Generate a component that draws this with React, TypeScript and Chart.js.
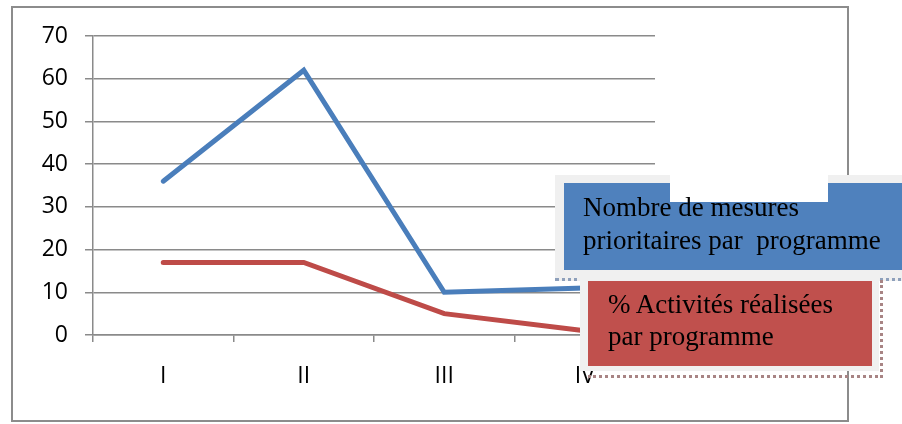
import React, { useEffect, useRef } from "react";
import { Chart, registerables } from "chart.js";

Chart.register(...registerables);

// Programme categories and the two series plotted against them
const categories = ["I", "II", "III", "IV"];
const mesuresPrioritaires = [36, 62, 10, 11];
const activitesRealisees = [17, 17, 5, 1];
const seriesNames = [
  "Nombre de mesures\nprioritaires par  programme",
  "% Activités réalisées\npar programme",
];
const yMin = 0;
const yMax = 70;
const yStep = 10;

const BLUE_LINE = "#4a7ebb";
const RED_LINE = "#be4b48";
const BLUE_FILL = "#4f81bd";
const RED_FILL = "#c0504d";
const GRID = "#8a8a8a";

// Grey frame around the whole chart object
const framePlugin = {
  id: "outerFrame",
  beforeDraw(chart: Chart) {
    const ctx = chart.ctx;
    ctx.save();
    ctx.fillStyle = "#ffffff";
    ctx.fillRect(0, 0, chart.width, chart.height);
    ctx.strokeStyle = "#8c8c8c";
    ctx.lineWidth = 2;
    ctx.strokeRect(12, 7, 836, 414);
    ctx.restore();
  },
};

export default function App() {
  const canvasRef = useRef<HTMLCanvasElement | null>(null);

  useEffect(() => {
    if (!canvasRef.current) return;
    const chart = new Chart(canvasRef.current, {
      type: "line",
      data: {
        labels: categories,
        datasets: [
          {
            label: seriesNames[0],
            data: mesuresPrioritaires,
            borderColor: BLUE_LINE,
            borderWidth: 5,
            borderCapStyle: "round",
            borderJoinStyle: "miter",
            pointRadius: 0,
            tension: 0,
          },
          {
            label: seriesNames[1],
            data: activitesRealisees,
            borderColor: RED_LINE,
            borderWidth: 5,
            borderCapStyle: "round",
            borderJoinStyle: "miter",
            pointRadius: 0,
            tension: 0,
          },
        ],
      },
      options: {
        responsive: false,
        animation: false,
        devicePixelRatio: 1,
        layout: { padding: { top: 36, right: 247, left: 0, bottom: 0 } },
        plugins: {
          legend: { display: false },
          tooltip: { enabled: false },
        },
        scales: {
          x: {
            offset: true,
            afterFit(scale: any) {
              scale.height = 89;
            },
            grid: {
              offset: true,
              drawOnChartArea: false,
              drawTicks: true,
              tickLength: 7,
              color: GRID,
              lineWidth: 1.5,
            },
            border: { display: true, color: GRID, width: 1.5 },
            ticks: {
              padding: 21,
              color: "#000000",
              font: { family: "'Open Sans'", size: 23 },
              maxRotation: 0,
            },
          },
          y: {
            min: yMin,
            max: yMax,
            afterFit(scale: any) {
              scale.width = 93;
            },
            grid: {
              drawOnChartArea: true,
              drawTicks: true,
              tickLength: 8,
              color: GRID,
              lineWidth: 1.5,
            },
            border: { display: true, color: GRID, width: 1.5 },
            ticks: {
              stepSize: yStep,
              padding: 17,
              color: "#000000",
              font: { family: "'Open Sans'", size: 23 },
            },
          },
        },
      },
      plugins: [framePlugin],
    });
    return () => chart.destroy();
  }, []);

  const textStyle: React.CSSProperties = {
    position: "absolute",
    fontFamily: "'Liberation Serif', 'Times New Roman', serif",
    fontSize: 27,
    color: "#000000",
    whiteSpace: "pre",
  };

  return (
    <div
      style={{
        position: "absolute",
        left: 0,
        top: 0,
        width: 902,
        height: 424,
        overflow: "hidden",
        background: "#ffffff",
      }}
    >
      <canvas ref={canvasRef} width={902} height={424} style={{ display: "block" }} />

      {/* legend entry: first series */}
      <div
        style={{
          position: "absolute",
          left: 555,
          top: 175,
          width: 360,
          height: 103,
          background: "#f0f0f0",
          borderBottom: "3px dotted #8ea0bb",
        }}
      />
      <div
        style={{
          position: "absolute",
          left: 564,
          top: 183,
          width: 360,
          height: 87,
          background: BLUE_FILL,
        }}
      />
      <div style={{ position: "absolute", left: 670, top: 168, width: 158, height: 34, background: "#ffffff" }} />
      <div style={{ ...textStyle, left: 583, top: 191, lineHeight: "33px" }}>{seriesNames[0]}</div>

      {/* legend entry: second series */}
      <div
        style={{
          position: "absolute",
          left: 588,
          top: 280,
          width: 292,
          height: 95,
          borderRight: "3px dotted #a88484",
          borderBottom: "3px dotted #a88484",
        }}
      />
      <div
        style={{
          position: "absolute",
          left: 580,
          top: 277,
          width: 299,
          height: 94,
          background: "#f0f0f0",
        }}
      />
      <div
        style={{
          position: "absolute",
          left: 588,
          top: 281,
          width: 284,
          height: 85,
          background: RED_FILL,
        }}
      />
      <div style={{ ...textStyle, left: 608, top: 288, lineHeight: "32px" }}>{seriesNames[1]}</div>
    </div>
  );
}
